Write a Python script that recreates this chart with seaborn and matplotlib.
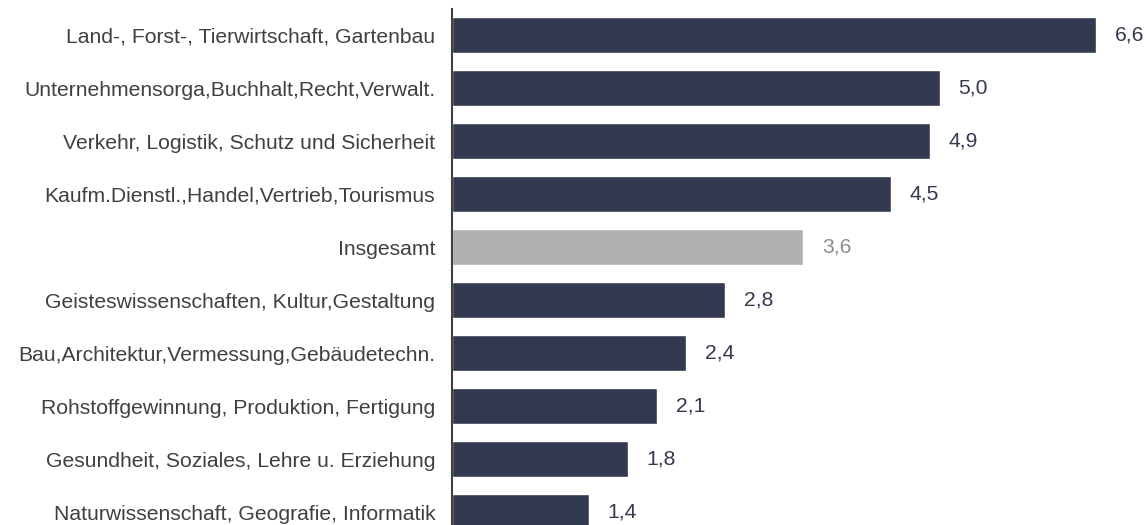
import matplotlib
matplotlib.use('Agg')
import matplotlib.pyplot as plt
import seaborn as sns
import pandas as pd

categories = [
    'Land-, Forst-, Tierwirtschaft, Gartenbau',
    'Unternehmensorga,Buchhalt,Recht,Verwalt.',
    'Verkehr, Logistik, Schutz und Sicherheit',
    'Kaufm.Dienstl.,Handel,Vertrieb,Tourismus',
    'Insgesamt',
    'Geisteswissenschaften, Kultur,Gestaltung',
    'Bau,Architektur,Vermessung,Gebäudetechn.',
    'Rohstoffgewinnung, Produktion, Fertigung',
    'Gesundheit, Soziales, Lehre u. Erziehung',
    'Naturwissenschaft, Geografie, Informatik',
]
values = [6.6, 5.0, 4.9, 4.5, 3.6, 2.8, 2.4, 2.1, 1.8, 1.4]

dark = '#333a4f'
grey = '#b0b0b0'
colors = [grey if c == 'Insgesamt' else dark for c in categories]

df = pd.DataFrame({'category': categories, 'value': values})

sns.set_style('white')
plt.rcParams['font.family'] = ['Liberation Sans', 'DejaVu Sans']

fig = plt.figure(figsize=(11.46, 5.25), dpi=100)
ax = fig.add_axes([452 / 1146, 1 - 538.5 / 525, 1 - 452 / 1146, 530 / 525])

sns.barplot(data=df, x='value', y='category', hue='category', palette=colors,
            legend=False, width=0.68, ax=ax, saturation=1)

fs = 15.2
for i, v in enumerate(values):
    col = '#8c8c8c' if categories[i] == 'Insgesamt' else '#333a4f'
    ax.text(v + 0.19, i, f'{v:.1f}'.replace('.', ','), va='center', ha='left',
            fontsize=fs, color=col)

ax.set_xlim(0, 694 / 97.6)
ax.set_ylim(9.5, -0.5)
ax.set_xlabel('')
ax.set_ylabel('')
ax.set_xticks([])
ax.tick_params(axis='y', length=0, pad=12, labelsize=fs, labelcolor='#404040')
for s in ['top', 'right', 'bottom']:
    ax.spines[s].set_visible(False)
ax.spines['left'].set_color('#404040')
ax.spines['left'].set_linewidth(1.5)

fig.savefig('out.png', dpi=100)
